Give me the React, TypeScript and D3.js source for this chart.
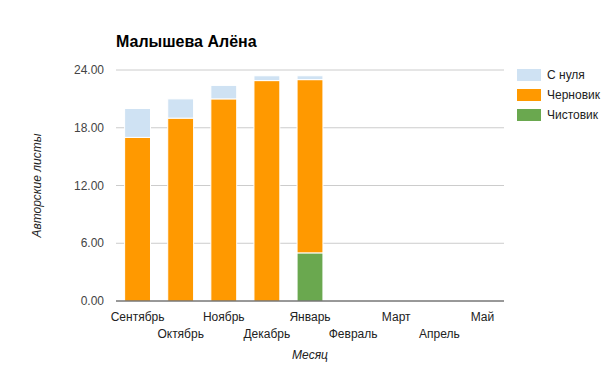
import React, { useEffect, useRef } from "react";
import * as d3 from "d3";

const months = ["Сентябрь", "Октябрь", "Ноябрь", "Декабрь", "Январь", "Февраль", "Март", "Апрель", "Май"];
const chistovik = [0, 0, 0, 0, 5, 0, 0, 0, 0];
const chernovik = [17, 19, 21, 22.9, 18, 0, 0, 0, 0];
const sNulya = [3, 2, 1.4, 0.5, 0.4, 0, 0, 0, 0];
const yTicks = [0, 6, 12, 18, 24];
const seriesNames = ["Чистовик", "Черновик", "С нуля"];
const seriesColors = ["#6aa84f", "#ff9900", "#cfe2f3"];

const W = 605;
const H = 369;
const FONT = "Arial, 'Liberation Sans', sans-serif";

const App = () => {
  const ref = useRef<SVGSVGElement | null>(null);

  useEffect(() => {
    const svg = d3.select(ref.current);
    svg.selectAll("*").remove();

    const left = 116, right = 504, top = 70, bottom = 301;

    const x = d3.scaleBand().domain(months).range([left, right]).paddingInner(0.4).paddingOuter(0.2);
    const y = d3.scaleLinear().domain([0, 24]).range([bottom, top]);

    // gridlines
    svg.append("g")
      .selectAll("line")
      .data(yTicks.filter(t => t > 0))
      .join("line")
      .attr("x1", left).attr("x2", right)
      .attr("y1", d => y(d)).attr("y2", d => y(d))
      .attr("stroke", "#cccccc").attr("stroke-width", 1);

    // y tick labels
    svg.append("g")
      .selectAll("text")
      .data(yTicks)
      .join("text")
      .attr("x", 104)
      .attr("y", d => y(d) + 4)
      .attr("text-anchor", "end")
      .attr("font-family", FONT).attr("font-size", 12)
      .attr("fill", "#444")
      .text(d => d.toFixed(2));

    // stacked bars
    const rows = months.map((m, i) => ({ month: m, "Чистовик": chistovik[i], "Черновик": chernovik[i], "С нуля": sNulya[i] }));
    const stack = d3.stack<any>().keys(seriesNames);
    const layers = stack(rows);

    svg.append("g")
      .selectAll("g")
      .data(layers)
      .join("g")
      .attr("fill", (_, i) => seriesColors[i])
      .selectAll("rect")
      .data(d => d.filter(p => p[1] - p[0] > 0))
      .join("rect")
      .attr("x", d => x(d.data.month)!)
      .attr("width", x.bandwidth())
      .attr("y", d => y(d[1]))
      .attr("height", d => y(d[0]) - y(d[1]))
      .attr("stroke", "#ffffff").attr("stroke-width", 1);

    // baseline
    svg.append("line")
      .attr("x1", left).attr("x2", right)
      .attr("y1", y(0)).attr("y2", y(0))
      .attr("stroke", "#333333").attr("stroke-width", 1);

    // x labels, alternating rows
    svg.append("g")
      .selectAll("text")
      .data(months)
      .join("text")
      .attr("x", d => x(d)! + x.bandwidth() / 2)
      .attr("y", (_, i) => (i % 2 === 0 ? 321 : 338))
      .attr("text-anchor", "middle")
      .attr("font-family", FONT).attr("font-size", 12)
      .attr("fill", "#222")
      .text(d => d);

    // axis titles
    svg.append("text")
      .attr("x", (left + right) / 2).attr("y", 359)
      .attr("text-anchor", "middle")
      .attr("font-family", FONT).attr("font-size", 12)
      .attr("font-style", "italic").attr("fill", "#222")
      .text("Месяц");

    svg.append("text")
      .attr("transform", `translate(41,${(top + bottom) / 2}) rotate(-90)`)
      .attr("text-anchor", "middle")
      .attr("font-family", FONT).attr("font-size", 12)
      .attr("font-style", "italic").attr("fill", "#222")
      .text("Авторские листы");

    // title
    svg.append("text")
      .attr("x", left).attr("y", 47)
      .attr("font-family", FONT).attr("font-size", 16)
      .attr("font-weight", "bold").attr("fill", "#000")
      .text("Малышева Алёна");

    // legend (reverse order)
    const legendItems = [2, 1, 0];
    const lg = svg.append("g");
    legendItems.forEach((si, k) => {
      lg.append("rect")
        .attr("x", 517).attr("y", 69 + k * 20)
        .attr("width", 24).attr("height", 12)
        .attr("fill", seriesColors[si]);
      lg.append("text")
        .attr("x", 547).attr("y", 79 + k * 20)
        .attr("font-family", FONT).attr("font-size", 12)
        .attr("fill", "#222")
        .text(seriesNames[si]);
    });
  }, []);

  return (
    <svg ref={ref} width={W} height={H} style={{ position: "absolute", left: 0, top: 0, background: "#fff" }} />
  );
};

export default App;
